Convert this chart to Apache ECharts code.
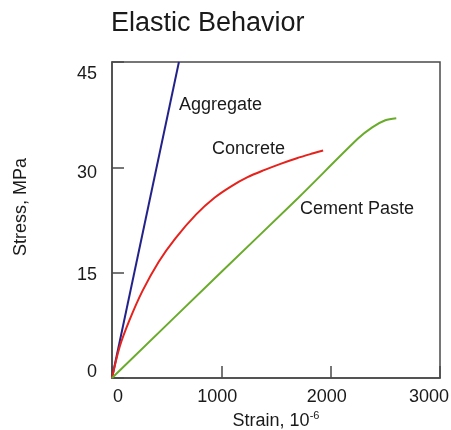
<!DOCTYPE html>
<html>
<head>
<meta charset="utf-8">
<script src="https://cdn.jsdelivr.net/npm/echarts@6/dist/echarts.min.js"></script>
<style>
html,body{margin:0;padding:0;background:#fff;}
#c{width:451px;height:430px;}
</style>
</head>
<body>
<div id="c"></div>
<script>
var xTicks = [0, 1000, 2000, 3000];
var yTicks = [0, 15, 30, 45];
var aggregate = [[0, 0], [612, 45]];
var concrete = [[0, 0], [69, 4.4], [159, 8.2], [279, 12.4], [429, 16.6], [580, 19.9], [770, 23.3], [940, 25.7], [1090, 27.3], [1240, 28.6], [1391, 29.6], [1541, 30.5], [1691, 31.3], [1841, 32.0], [1931, 32.4]];
var cementPaste = [[0, 0], [1000, 15.1], [1700, 25.6], [2250, 34.1], [2380, 35.7], [2500, 36.7], [2600, 37.0]];
var seriesNames = ['Aggregate', 'Concrete', 'Cement Paste'];
var labelAnchors = [[613, 38.9], [915, 32.6], [1720, 24.0]];

var font = '"Liberation Sans", Arial, sans-serif';
var chart = echarts.init(document.getElementById('c'), null, {renderer: 'canvas'});

function lbl(i) {
  return {
    data: [{coord: labelAnchors[i]}],
    symbol: 'circle', symbolSize: 0, silent: true,
    label: {show: true, position: 'inside', align: 'left', verticalAlign: 'middle',
      formatter: seriesNames[i], color: '#1a1a1a', fontSize: 18, fontFamily: font}
  };
}

var xPad = {0: [0, 0, 0, 12], 1000: [0, 8, 0, 0], 2000: [0, 8, 0, 0], 3000: [0, 22, 0, 0]};
var yPad = {0: [0, 0, 12, 0], 15: [4, 0, 0, 0], 30: [12, 0, 0, 0], 45: [24, 0, 0, 0]};
var xRich = {}, yRich = {};
xTicks.forEach(function (t, i) { xRich['x' + i] = {padding: xPad[t], fontSize: 18, fontFamily: font, color: '#1a1a1a'}; });
yTicks.forEach(function (t, i) { yRich['y' + i] = {padding: yPad[t], fontSize: 18, fontFamily: font, color: '#1a1a1a'}; });

var axisColor = '#4a4a4a';
chart.setOption({
  animation: false,
  backgroundColor: '#ffffff',
  title: {
    text: 'Elastic Behavior', left: 106, top: 5,
    textStyle: {fontSize: 27, fontWeight: 'normal', color: '#1a1a1a', fontFamily: font}
  },
  grid: {left: 112, right: 11, top: 62, bottom: 52, show: true, borderColor: axisColor, borderWidth: 1.5,
    containLabel: false, outerBoundsMode: 'none'},
  xAxis: {
    type: 'value', min: xTicks[0], max: xTicks[xTicks.length - 1], interval: 1000,
    name: 'Strain, 10{sup|-6}', nameLocation: 'middle', nameGap: 32,
    nameTextStyle: {fontSize: 18, fontFamily: font, color: '#1a1a1a',
      rich: {sup: {fontSize: 11, fontFamily: font, color: '#1a1a1a', verticalAlign: 'top', padding: [0, 0, 10, 0]}}},
    axisLine: {lineStyle: {color: axisColor, width: 1.5}},
    axisTick: {inside: true, length: 12, lineStyle: {color: axisColor, width: 1.5}},
    axisLabel: {margin: 10, formatter: function (v) { var i = xTicks.indexOf(v); return '{x' + i + '|' + v + '}'; }, rich: xRich},
    splitLine: {show: false}
  },
  yAxis: {
    type: 'value', min: yTicks[0], max: yTicks[yTicks.length - 1], interval: 15,
    name: 'Stress, MPa', nameLocation: 'middle', nameGap: 82,
    nameTextStyle: {fontSize: 18, fontFamily: font, color: '#1a1a1a', padding: [0, 0, 0, 26]},
    axisLine: {lineStyle: {color: axisColor, width: 1.5}},
    axisTick: {inside: true, length: 12, lineStyle: {color: axisColor, width: 1.5}},
    axisLabel: {margin: 15, formatter: function (v) { var i = yTicks.indexOf(v); return '{y' + i + '|' + v + '}'; }, rich: yRich},
    splitLine: {show: false}
  },
  series: [
    {name: seriesNames[0], type: 'line', data: aggregate, showSymbol: false, clip: true,
      lineStyle: {color: '#22228a', width: 2}, itemStyle: {color: '#22228a'}, markPoint: lbl(0)},
    {name: seriesNames[1], type: 'line', data: concrete, showSymbol: false, smooth: 0.3,
      lineStyle: {color: '#e6221c', width: 2}, itemStyle: {color: '#e6221c'}, markPoint: lbl(1)},
    {name: seriesNames[2], type: 'line', data: cementPaste, showSymbol: false, smooth: 0.3,
      lineStyle: {color: '#6aab2b', width: 2}, itemStyle: {color: '#6aab2b'}, markPoint: lbl(2)}
  ]
});
</script>
</body>
</html>
